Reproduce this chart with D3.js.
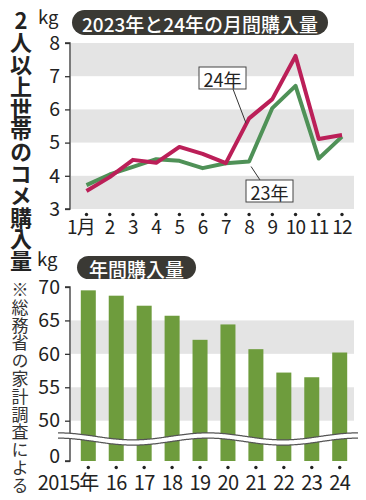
<!DOCTYPE html>
<html><head><meta charset="utf-8">
<script src="https://cdn.jsdelivr.net/npm/d3@7"></script>
<style>
html,body{margin:0;padding:0;background:#fff;}
svg{display:block;}
text{font-family:"Noto Sans CJK JP","Noto Sans",sans-serif;}
.vert{writing-mode:vertical-rl;text-orientation:upright;}
</style></head>
<body>
<script>
// ---- data ----
const months = ["1月","2","3","4","5","6","7","8","9","10","11","12"];
const series24 = [3.54,3.96,4.48,4.39,4.87,4.66,4.38,5.73,6.31,7.61,5.11,5.23];
const series23 = [3.72,4.04,4.27,4.50,4.45,4.23,4.38,4.43,6.04,6.71,4.52,5.18];
const monthTicks = [3,4,5,6,7,8];
const years = ["2015年","16","17","18","19","20","21","22","23","24"];
const annual = [69.5,68.7,67.2,65.7,62.1,64.4,60.7,57.2,56.5,60.2];
const annualTicks = [0,50,55,60,65,70];
const titleMain = "2人以上世帯のコメ購入量";
const note = "※総務省の家計調査による";
const title1 = "2023年と24年の月間購入量";
const title2 = "年間購入量";

const W = 366, H = 500;
const svg = d3.select("body").append("svg").attr("width", W).attr("height", H);
const dark = "#333";
const bandGray = "#e4e4e4";
const red = "#bb1f58", green = "#4f9157", barGreen = "#6e9c3d";
const latin = "'Liberation Sans','Noto Sans CJK JP',sans-serif";

// ---- vertical titles ----
svg.append("text").attr("class", "vert")
  .attr("x", 21).attr("y", 10)
  .attr("font-size", 22).attr("font-weight", 700).attr("fill", "#222")
  .attr("letter-spacing", -0.2)
  .text(titleMain);
svg.append("text").attr("class", "vert")
  .attr("x", 20).attr("y", 281)
  .attr("font-size", 17).attr("fill", "#333")
  .attr("letter-spacing", 0.8)
  .text(note);

// ---- title pills ----
function pill(x, y, w, h, label) {
  svg.append("rect").attr("x", x).attr("y", y).attr("width", w).attr("height", h)
    .attr("rx", h/2).attr("fill", "#3a3934");
  svg.append("text").attr("x", x + w/2).attr("y", y + h/2 + 1)
    .attr("text-anchor","middle").attr("dominant-baseline","central")
    .attr("font-size", 19).attr("font-weight", 500).attr("fill", "#fff").text(label);
}
pill(72, 10, 256, 25, title1);
pill(77, 256, 119, 23, title2);

// ---- top chart ----
const x1 = d3.scalePoint().domain(months).range([86.5, 342]);
const y1 = d3.scaleLinear().domain([3, 8]).range([209, 43]);
const plotL = 71, plotR = 354;

[[3,4],[5,6],[7,8]].forEach(([a,b]) => {
  svg.append("rect").attr("x", plotL).attr("width", plotR - plotL)
    .attr("y", y1(b)).attr("height", y1(a) - y1(b)).attr("fill", bandGray);
});
const ax1 = svg.append("g").attr("transform", "translate(70,0)")
  .call(d3.axisLeft(y1).tickValues(monthTicks).tickSize(5).tickPadding(5).tickFormat(d3.format("d")));
ax1.select(".domain").attr("stroke", dark).attr("stroke-width", 1.3).attr("d", `M-5,${y1(8)}H0V${y1(3)}H-5`);
ax1.selectAll(".tick line").attr("stroke", dark).attr("stroke-width", 1.3);
ax1.selectAll(".tick text").attr("font-size", 19.5).attr("fill", "#222").attr("font-family", latin);

svg.append("g").selectAll("circle").data(months).join("circle")
  .attr("cx", d => x1(d)).attr("cy", 214.5).attr("r", 1.7).attr("fill", "#222");
svg.append("g").selectAll("text").data(months).join("text")
  .attr("x", (d,i) => i === 0 ? x1(d) + 8.5 : x1(d))
  .attr("y", 234)
  .attr("text-anchor", (d,i) => i === 0 ? "end" : "middle")
  .attr("font-size", 19).attr("letter-spacing", -0.8).attr("fill", "#222")
  .text(d => d);

const line = d3.line().x((d,i) => x1(months[i])).y(d => y1(d));
svg.append("path").attr("d", line(series23)).attr("fill","none")
  .attr("stroke", green).attr("stroke-width", 4).attr("stroke-linejoin","round");
svg.append("path").attr("d", line(series24)).attr("fill","none")
  .attr("stroke", red).attr("stroke-width", 4).attr("stroke-linejoin","round");

function callout(bx, by, bw, bh, label, lx1, ly1, lx2, ly2) {
  svg.append("line").attr("x1", lx1).attr("y1", ly1).attr("x2", lx2).attr("y2", ly2)
    .attr("stroke", "#333").attr("stroke-width", 1);
  svg.append("rect").attr("x", bx).attr("y", by).attr("width", bw).attr("height", bh)
    .attr("fill", "#fff").attr("stroke", "#444").attr("stroke-width", 1);
  svg.append("text").attr("x", bx + bw/2).attr("y", by + bh/2 + 1)
    .attr("text-anchor","middle").attr("dominant-baseline","central")
    .attr("font-size", 18).attr("fill", "#222").text(label);
}
callout(199, 67, 47, 22, "24年", 233, 89, x1("8") - 3, y1(series24[7]) + 5);
callout(246, 180, 47, 22, "23年", x1("8") + 2, y1(series23[7]) + 5, 260, 180);

// ---- bottom chart ----
const x2 = d3.scalePoint().domain(years).range([88.3, 339.7]);
const y2 = d3.scaleLinear().domain([0, 50, 70]).range([461, 420.7, 287]);

[[50,55],[60,65]].forEach(([a,b]) => {
  svg.append("rect").attr("x", plotL).attr("width", plotR - plotL)
    .attr("y", y2(b)).attr("height", y2(a) - y2(b)).attr("fill", bandGray);
});
const bw = 15;
svg.append("g").selectAll("rect").data(annual).join("rect")
  .attr("x", (d,i) => x2(years[i]) - bw/2).attr("width", bw)
  .attr("y", d => y2(d)).attr("height", d => y2(0) - y2(d))
  .attr("fill", barGreen);

const ax2 = svg.append("g").attr("transform", "translate(70,0)")
  .call(d3.axisLeft(y2).tickValues(annualTicks).tickSize(5).tickPadding(5).tickFormat(d3.format("d")));
ax2.select(".domain").attr("stroke", dark).attr("stroke-width", 1.3).attr("d", `M-5,${y2(70)}H0V${y2(0)}H-5`);
ax2.selectAll(".tick line").attr("stroke", dark).attr("stroke-width", 1.3);
ax2.selectAll(".tick text").attr("font-size", 19.5).attr("fill", "#222").attr("font-family", latin);
ax2.selectAll(".tick").filter(d => d === 0).select("text").attr("dy", "0.1em");

const waveX = d3.range(58, 360, 2);
const wave = d3.line().curve(d3.curveBasis)
  .x(d => d).y(d => 439 + 3.5 * Math.cos((d - 58) / 150 * 2 * Math.PI + Math.PI));
svg.append("path").attr("d", wave(waveX)).attr("fill","none")
  .attr("stroke", "#555").attr("stroke-width", 6.5);
svg.append("path").attr("d", wave(waveX)).attr("fill","none")
  .attr("stroke", "#fff").attr("stroke-width", 4);

svg.append("g").selectAll("circle").data(years).join("circle")
  .attr("cx", d => x2(d)).attr("cy", 467.5).attr("r", 1.7).attr("fill", "#222");
// year labels: the suffix "年" of the first label is centered on its dot
const yearLab = svg.append("g").attr("font-size", 20).attr("fill", "#222");
years.forEach((d, i) => {
  const m = d.match(/^(\d+)(\D*)$/);
  const num = m[1], suf = m[2];
  if (suf) {
    yearLab.append("text").attr("x", x2(d) - 8.5).attr("y", 490)
      .attr("text-anchor", "end").attr("letter-spacing", -0.6)
      .attr("font-family", latin).text(num);
    yearLab.append("text").attr("x", x2(d) + 1).attr("y", 490)
      .attr("text-anchor", "middle").text(suf);
  } else {
    yearLab.append("text").attr("x", x2(d)).attr("y", 490)
      .attr("text-anchor", "middle").attr("letter-spacing", -0.6)
      .attr("font-family", latin).text(num);
  }
});

svg.append("text").attr("x", 38).attr("y", 24).attr("font-size", 18.5).attr("fill", "#222")
  .attr("font-family", latin).text("kg");
svg.append("text").attr("x", 37).attr("y", 266).attr("font-size", 18.5).attr("fill", "#222")
  .attr("font-family", latin).text("kg");
</script>
</body></html>
